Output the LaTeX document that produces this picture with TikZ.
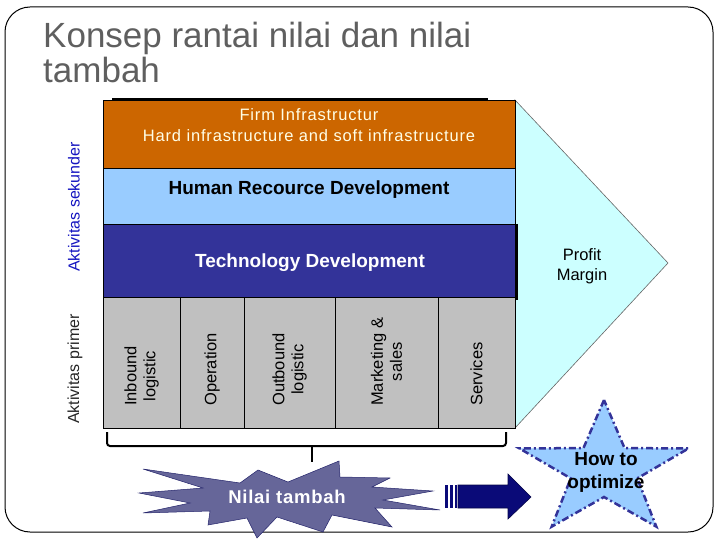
\documentclass[tikz,border=0pt]{standalone}
\usepackage{fontspec}
\setmainfont{Liberation Sans}
\usetikzlibrary{positioning}
\definecolor{infra}{HTML}{CC6600}
\definecolor{hrd}{HTML}{99CCFF}
\definecolor{tech}{HTML}{333399}
\definecolor{primer}{HTML}{C0C0C0}
\definecolor{margin}{HTML}{CCFFFF}
\definecolor{titlegray}{HTML}{5F5F5F}
\definecolor{nilai}{HTML}{666699}
\definecolor{navyarrow}{HTML}{0A0A78}
\definecolor{sekunder}{HTML}{1515C0}
\definecolor{starfill}{HTML}{99CCFF}
\newcommand\fsize[2]{\fontsize{#1}{#2}\selectfont}
\newcommand\spaced[1]{\addfontfeature{LetterSpace=#1}}

\begin{document}
\begin{tikzpicture}[x=1pt,y=-1pt,
    box/.style={draw=black,line width=0.7pt},
    coltext/.style={rotate=90,anchor=west,align=center,inner sep=0pt,font=\fsize{16.5}{19}},
    bracket/.style={line width=2pt,rounded corners=3pt},
    starline/.style={draw=tech,fill=starfill,line width=2.5pt,
        dash pattern=on 7pt off 3pt on 2pt off 3pt}]
    \useasboundingbox (0,0) rectangle (720,540);
    \draw[rounded corners=25pt,line width=1pt] (5,7) rectangle (713,532);

    % judul
    \node[anchor=base west,inner sep=0pt,text=titlegray,font=\fsize{35}{35}] (title1) at (43,48) {Konsep rantai nilai dan nilai};
    \node[anchor=base west,inner sep=0pt,text=titlegray,font=\fsize{35}{35}] (title2) at (43,83) {tambah};

    % margin
    \draw[fill=margin,draw=black!60,line width=0.6pt] (515,100) -- (668,263) -- (515,428) -- cycle;
    \node[align=center,font=\fsize{16.5}{20}] (margin) at (582,266) {Profit\\Margin};

    % aktivitas sekunder
    \draw[line width=1.5pt] (112,99) -- (488,99);
    \draw[box,fill=infra] (103,100) rectangle (515,168);
    \draw[box,fill=hrd] (103,168) rectangle (515,224);
    \draw[box,fill=tech] (103,224) rectangle (515,297);
    \draw[line width=1.5pt] (517,224) -- (517,300);
    \node[align=center,text=white!90!yellow,font=\fsize{16.5}{21}\spaced{5}] (firm) at (309,125)
        {Firm Infrastructur\\Hard infrastructure and soft infrastructure};
    \node[anchor=base,font=\bfseries\fsize{19}{20}] (human) at (309,195) {Human Recource Development};
    \node[anchor=base,text=white,font=\bfseries\fsize{19}{20}] (techdev) at (310,267) {Technology Development};

    % aktivitas primer
    \foreach \a/\b in {103/180,180/244,244/335,335/438,438/515}
      \draw[box,fill=primer] (\a,297) rectangle (\b,428);
    \foreach \x/\t/\k in {141.5/Inbound\\logistic/0,212/Operation/1,289.5/Outbound\\logistic/2,386.5/Marketing \&\\sales/3,476.5/Services/4}
      \node[coltext] (p\k) at (\x,406) {\t};

    \node[rotate=90,text=sekunder,font=\fsize{16}{16}] (sek) at (74,207) {Aktivitas sekunder};
    \node[rotate=90,text=black!85,font=\fsize{16}{16}] (pri) at (75,369) {Aktivitas primer};

    % kurung
    \draw[bracket] (107,432) |- (312,446) -| (506,432);
    \draw[bracket] (312,446) -- (312,462);

    % nilai tambah
    \draw[fill=nilai,draw=tech!70!black,line width=0.5pt]
      (143,469) -- (240,483) -- (258,470) -- (288,482) -- (339,461) -- (340,477)
      -- (390,478) -- (372,487) -- (433,491) -- (383,500) -- (440,510) -- (375,508)
      -- (392,527) -- (332,515) -- (323,532) -- (277,517) -- (257,538) -- (247,518)
      -- (208,525) -- (210,511) -- (143,513) -- (190,503) -- (139,493) -- (203,488) -- cycle;
    \node[anchor=base,text=white,font=\bfseries\fsize{18.5}{18.5}\spaced{4}] (nilai) at (287,503) {Nilai tambah};

    % panah
    \foreach \a/\b in {445/448,450/453,454.5/457}
      \fill[navyarrow] (\a,485) rectangle (\b,508);
    \draw[fill=navyarrow,draw=navyarrow!60!black,line width=0.6pt]
      (458,485) -- (508,485) -- (508,474) -- (531,497) -- (508,519) -- (508,508) -- (458,508) -- cycle;

    % bintang
    \draw[starline] plot[samples at={0,1,...,9},variable=\k]
      ({604+ifthenelse(mod(\k,2)==0,89,35)*cos(90+36*\k)},{470-ifthenelse(mod(\k,2)==0,70,27)*sin(90+36*\k)}) -- cycle;
    \node[align=center,font=\bfseries\fsize{19}{23}] (optimize) at (606,472) {How to\\optimize};
\end{tikzpicture}
\end{document}
